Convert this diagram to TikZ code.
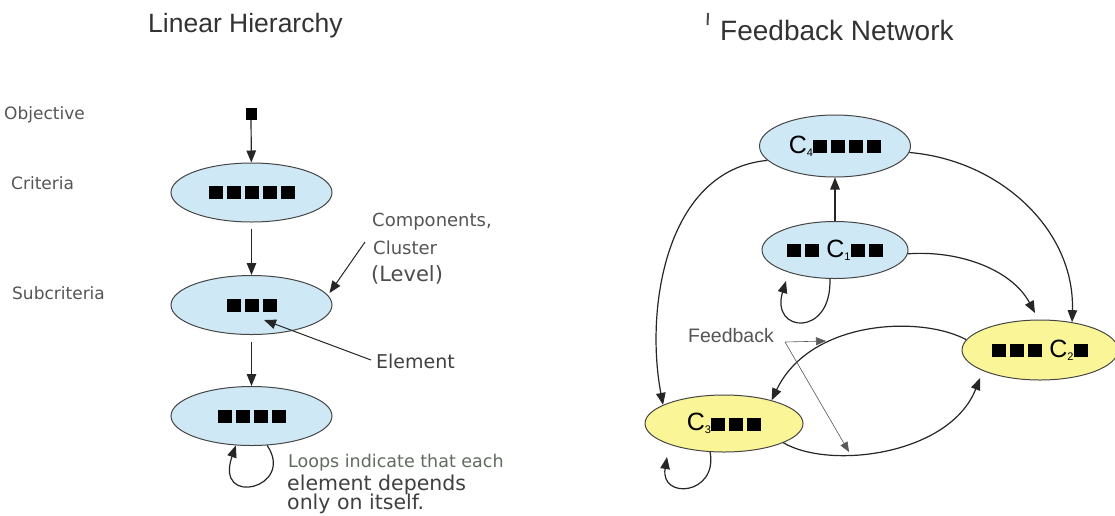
\documentclass[tikz,border=0pt]{standalone}
\usepackage{fontspec}
\setmainfont{Liberation Sans}
\newfontfamily\dejavu{DejaVu Sans}
\usetikzlibrary{arrows.meta,shapes.geometric}

\definecolor{clblue}{RGB}{206,232,246}
\definecolor{clyellow}{RGB}{250,245,150}
\definecolor{txtgray}{RGB}{85,85,85}
\definecolor{notegreen}{RGB}{95,108,95}
\definecolor{rimgray}{RGB}{70,70,70}

% element squares inside a cluster
\newcommand\sqbox{\rule{14pt}{13pt}}
\newcommand\sqgap{\kern4pt}
\newcommand\fsz[1]{\fontsize{#1}{#1}\selectfont}
\newcommand\csub[1]{\raisebox{-3pt}{\fsz{11}#1}}

\begin{document}
\begin{tikzpicture}[x=1pt,y=1pt,
  cluster/.style={ellipse, draw=rimgray, line width=1pt, inner sep=0pt,
    minimum width=161pt, minimum height=59pt, fill=clblue, font=\fsz{25}},
  warm/.style={cluster, fill=clyellow},
  objbox/.style={fill=black, minimum width=11pt, minimum height=12pt, inner sep=0pt},
  arr/.style={-{Triangle[length=12pt,width=9.5pt]}, line width=1.2pt, draw=black!85},
  fbline/.style={-{Triangle[length=10pt,width=8pt]}, line width=0.6pt, draw=black!65},
  title/.style={anchor=base west, inner sep=0pt, text=black!80},
  lvllabel/.style={anchor=base west, inner sep=0pt, font=\dejavu\fsz{17}, text=txtgray},
  note/.style={anchor=base west, inner sep=0pt, font=\dejavu\fsz{18}, text=txtgray}]

\fill[white] (0,0) rectangle (1115,-515);
\useasboundingbox (0,0) rectangle (1115,-515);

% ---------- titles ----------
\node[title, font=\fsz{26.5}] (tlin) at (148,-32) {Linear Hierarchy};
\node[title, font=\fsz{28}] (tfb) at (720,-40) {Feedback Network};
\draw[line width=2pt, black!70] (708,-13) -- (707.5,-25);

% ---------- linear hierarchy ----------
\node[lvllabel] (lobj) at (4,-119) {Objective};
\node[lvllabel] (lcrit) at (11,-189) {Criteria};
\node[lvllabel] (lsub) at (12,-299) {Subcriteria};

\node[objbox] (obj) at (251,-114) {};
\node[cluster] (crit) at (251.5,-192.5) {\sqbox\sqgap\sqbox\sqgap\sqbox\sqgap\sqbox\sqgap\sqbox};
\node[cluster] (sub) at (251.5,-305) {\sqbox\sqgap\sqbox\sqgap\sqbox};
\node[cluster] (alt) at (251.5,-416) {\sqbox\sqgap\sqbox\sqgap\sqbox\sqgap\sqbox};

\draw[arr] (obj) -- (crit);
\draw[arr, shorten <=6pt] (crit) -- (sub);
\draw[arr, shorten <=7pt] (sub) -- (alt);
\draw[arr] (alt.-62) .. controls (296,-488) and (214,-508) .. (alt.-118);

\node[note] (lcomp) at (372,-226) {Components,};
\node[note] (lclus) at (373,-254) {Cluster};
\node[note, font=\dejavu\fsz{21}, text=black!70] (llev) at (371,-281) {(Level)};
\node[note, font=\dejavu\fsz{19}, text=black!75] (lelem) at (376,-368) {Element};

\coordinate (compfrom) at (365,-242);
\coordinate (elemfrom) at (371,-360);
\draw[arr, line width=1pt] (compfrom) -- ([shift={(78,12)}]sub.center);
\draw[arr, line width=1pt] (elemfrom) -- ([shift={(12.5,-15)}]sub.center);

\node[note, font=\dejavu\fsz{17.5}, text=notegreen] (loop1) at (288,-467) {Loops indicate that each};
\node[note, font=\dejavu\fsz{20.5}, text=black!75] (loop2) at (287,-490) {element depends};
\node[note, font=\dejavu\fsz{20.5}, text=black!75] (loop3) at (287,-509) {only on itself.};

% ---------- feedback network ----------
\node[cluster, minimum width=151pt, minimum height=62pt] (c4) at (835,-146)
  {C\csub{4}\sqbox\sqgap\sqbox\sqgap\sqbox\sqgap\sqbox};
\node[cluster, minimum width=146pt, minimum height=57pt] (c1) at (835,-250)
  {\sqbox\sqgap\sqbox\kern7pt C\csub{1}\sqbox\sqgap\sqbox};
\node[warm, minimum width=156pt, minimum height=60pt] (c2) at (1040,-350)
  {\sqbox\sqgap\sqbox\sqgap\sqbox\kern7pt C\csub{2}\sqbox};
\node[warm, minimum width=158pt, minimum height=57pt] (c3) at (724,-423.5)
  {C\csub{3}\sqbox\sqgap\sqbox\sqgap\sqbox};

\draw[arr] (c1) -- (c4);
\draw[arr] (c4.192) .. controls (665,-170) and (645,-310) .. (c3.163);
\draw[arr] (c4.-5) .. controls (1000,-160) and (1075,-230) .. (c2.41);
\draw[arr] (c1.-3) .. controls (960,-250) and (1012,-270) .. ([shift={(-5,37)}]c2.center);
\draw[arr] (c2.172) .. controls (920,-315) and (810,-320) .. (c3.26);
\draw[arr] (c3.-18) .. controls (830,-470) and (950,-455) .. ([shift={(-60,-28)}]c2.center);
\draw[arr] (c1.-100) .. controls (832,-338) and (770,-333) .. ([shift={(-49,-31)}]c1.center);
\draw[arr] (c3.-116) .. controls (718,-495) and (660,-500) .. ([shift={(-57,-33.5)}]c3.center);

\node[anchor=base west, inner sep=0pt, font=\fsz{19.5}, text=txtgray] (fb) at (688,-342) {Feedback};
\coordinate (fbo) at (785,-342);
\coordinate (fbt1) at (826,-341);
\coordinate (fbt2) at (849,-452);
\draw[fbline] (fbo) -- (fbt1);
\draw[fbline] (fbo) -- (fbt2);

\end{tikzpicture}
\end{document}
